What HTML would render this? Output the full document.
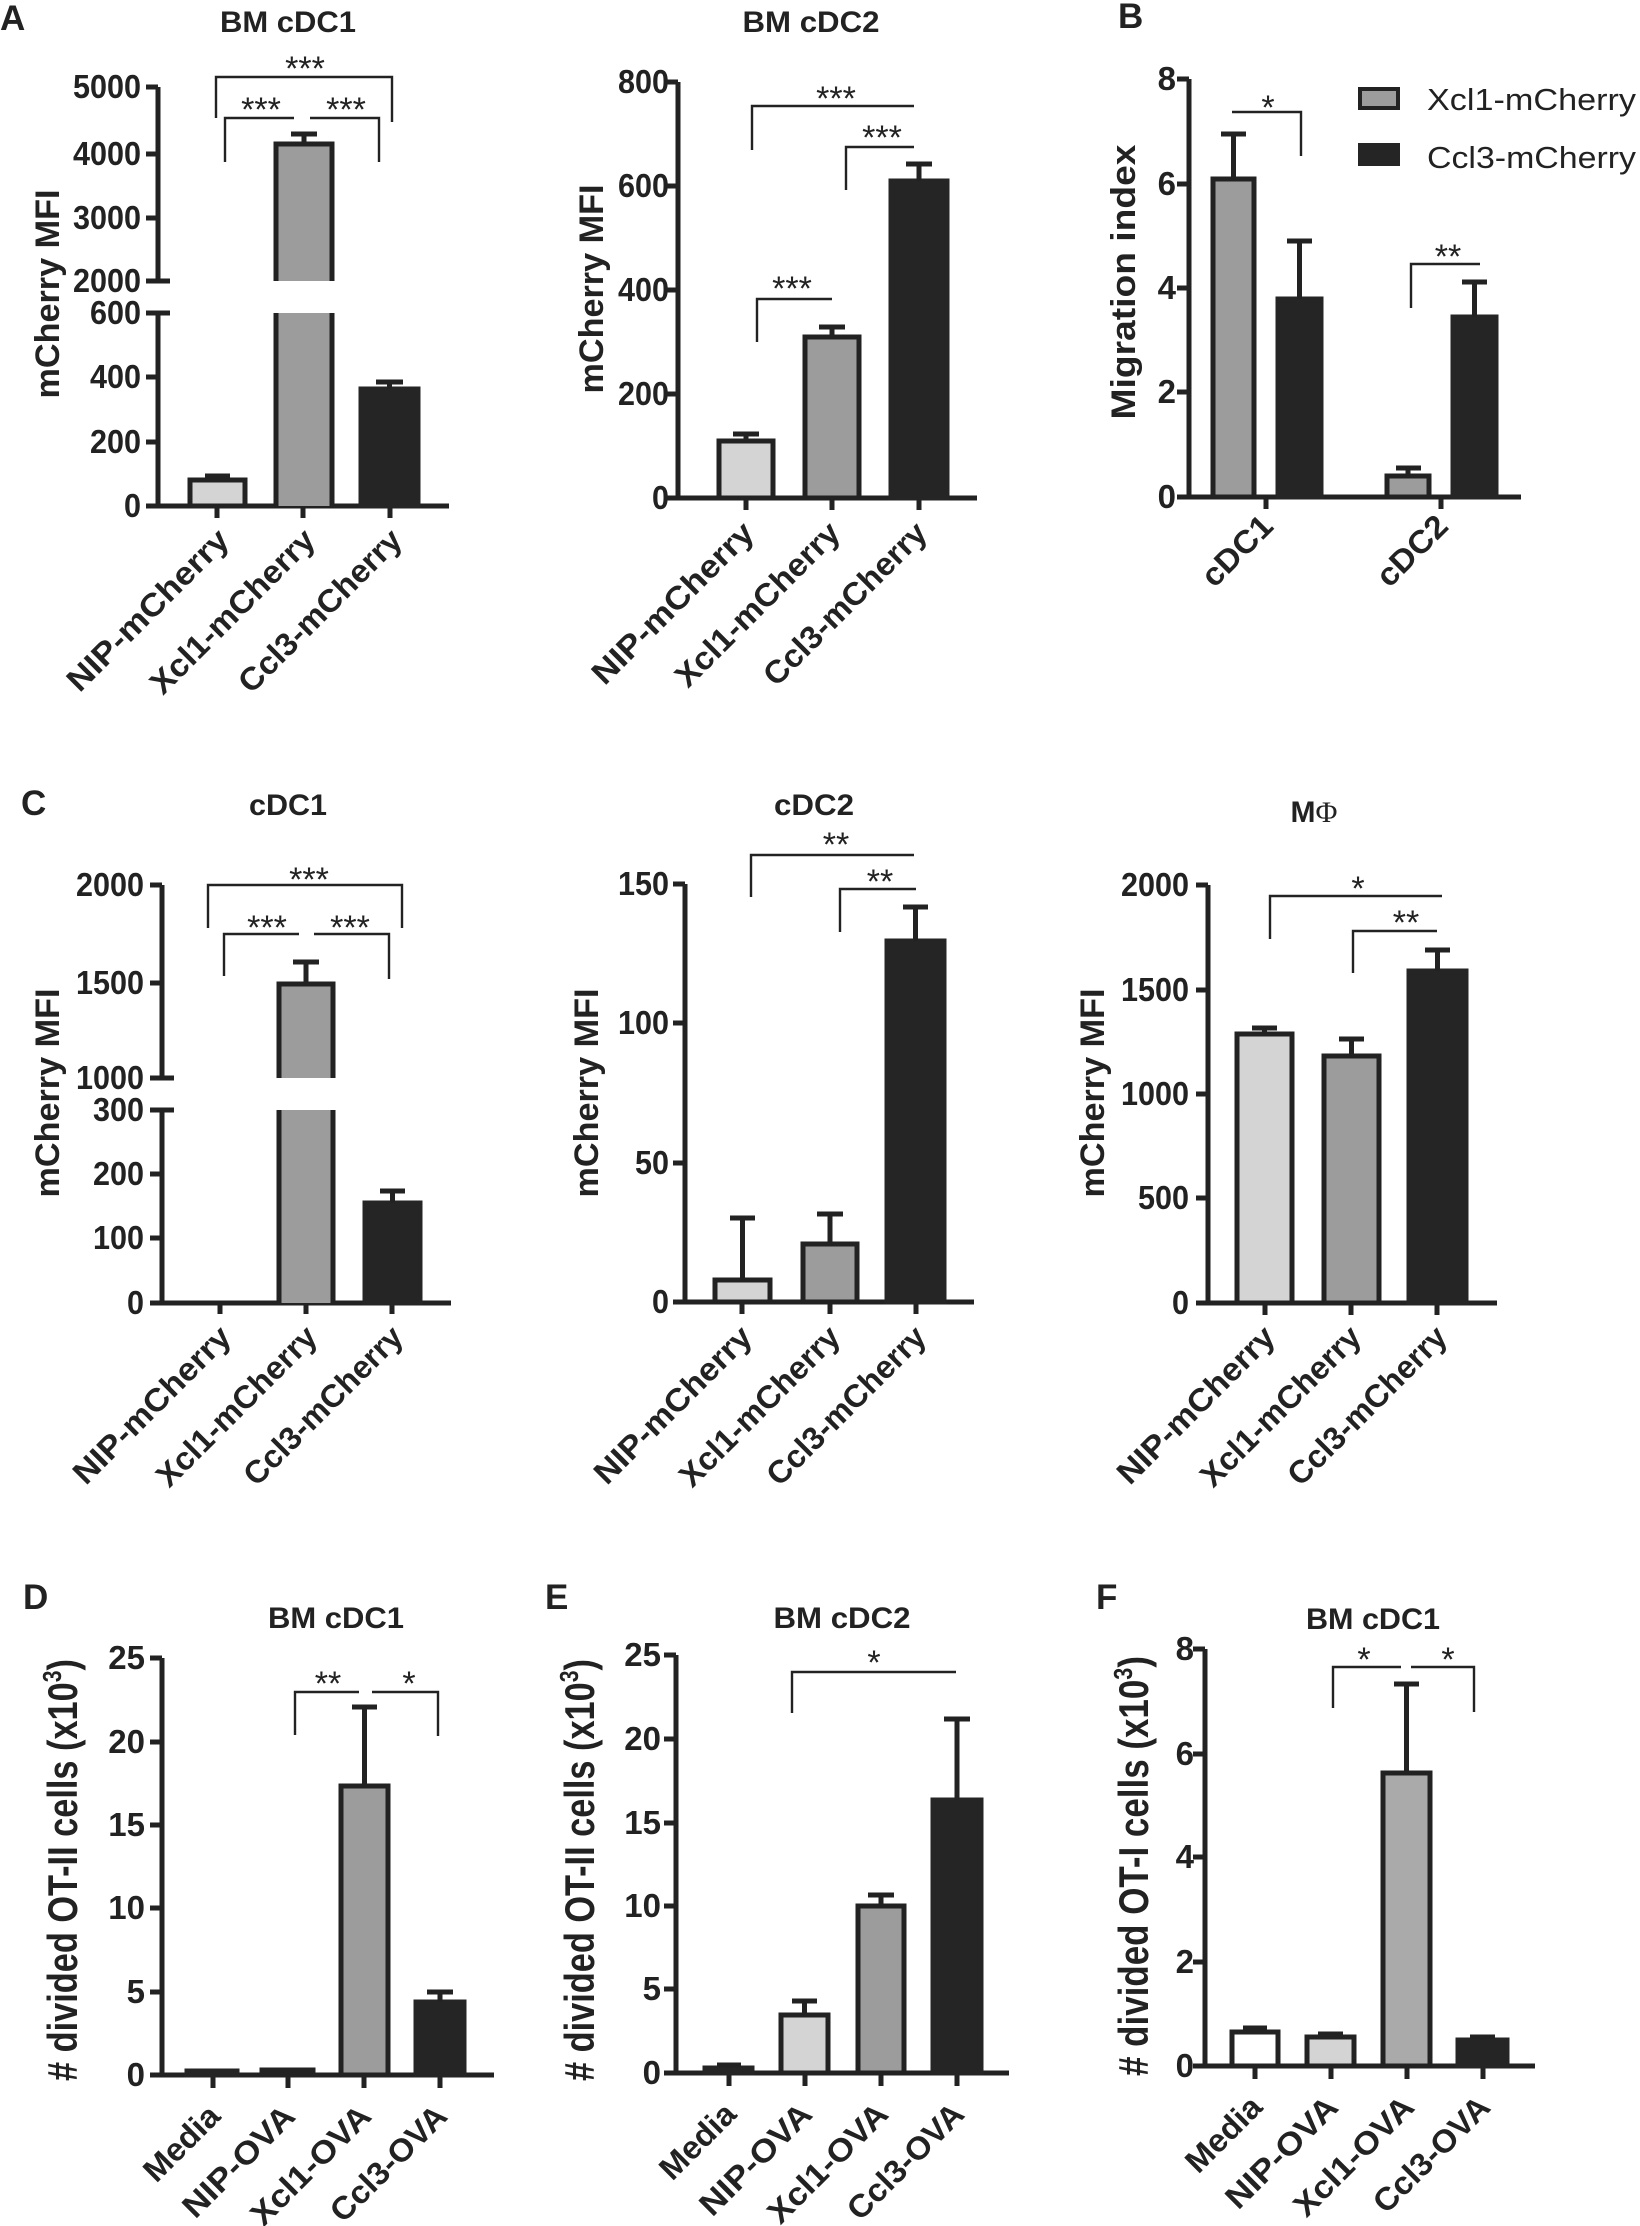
<!DOCTYPE html>
<html><head><meta charset="utf-8"><style>
html,body{margin:0;padding:0;background:#fff}
svg{display:block}
text{font-family:"Liberation Sans",Arial,sans-serif;fill:#222}
.ax{stroke:#222;stroke-width:5;fill:none}
.br{stroke:#222;stroke-width:2.4;fill:none}
.eb{stroke:#222;stroke-width:5;fill:none}
.tl{font-weight:bold;font-size:33px;text-anchor:end}
.tt{font-weight:bold;font-size:30px;text-anchor:middle}
.yl{font-weight:bold;font-size:34px;text-anchor:middle}
.xl{font-weight:bold;font-size:32px;text-anchor:end}
.st{font-size:34px;text-anchor:middle}
.pl{font-weight:bold;font-size:35px}
.yr{font-weight:bold;font-size:42px;text-anchor:middle}
.L{fill:#d4d4d4;stroke:#222;stroke-width:5}
.M{fill:#9c9c9c;stroke:#222;stroke-width:5}
.D{fill:#252525;stroke:#252525;stroke-width:5}
.W{fill:#fff;stroke:#222;stroke-width:5}
</style></head><body>
<svg width="1640" height="2226" viewBox="0 0 1640 2226" xmlns="http://www.w3.org/2000/svg">

<!-- ===== A1 ===== -->
<text class="pl" x="0" y="30">A</text>
<text class="tt" x="288" y="32" textLength="136" lengthAdjust="spacingAndGlyphs">BM cDC1</text>
<path class="ax" d="M158,87 V281 M158,313 V506 H449 M146,87H158 M146,154H158 M146,218H158 M146,281H170 M146,313H170 M146,377H158 M146,442H158 M146,506H158 M217,506V518 M303,506V518 M390,506V518"/>
<text class="tl" x="141" y="98" textLength="68" lengthAdjust="spacingAndGlyphs">5000</text><text class="tl" x="141" y="165" textLength="68" lengthAdjust="spacingAndGlyphs">4000</text><text class="tl" x="141" y="229" textLength="68" lengthAdjust="spacingAndGlyphs">3000</text><text class="tl" x="141" y="292" textLength="68" lengthAdjust="spacingAndGlyphs">2000</text>
<text class="tl" x="141" y="324" textLength="51" lengthAdjust="spacingAndGlyphs">600</text><text class="tl" x="141" y="388" textLength="51" lengthAdjust="spacingAndGlyphs">400</text><text class="tl" x="141" y="453" textLength="51" lengthAdjust="spacingAndGlyphs">200</text><text class="tl" x="141" y="517" textLength="17" lengthAdjust="spacingAndGlyphs">0</text>
<rect class="L" x="190" y="480" width="55" height="26"/><path class="eb" d="M217.5,480V476 M205,476H230"/>
<rect x="276" y="144" width="56" height="137" fill="#9c9c9c"/><rect x="276" y="313" width="56" height="193" fill="#9c9c9c"/>
<path class="ax" d="M276,281V144H332V281 M276,313V506 M332,313V506"/><path class="eb" d="M304,144V134 M291,134H317"/>
<rect class="D" x="361" y="389" width="57" height="117"/><path class="eb" d="M389.5,389V382 M376,382H403"/>
<path class="br" d="M216,118V77H392V122 M225,162V118H294 M310,118H379V162"/>
<text class="st" x="305" y="80">***</text><text class="st" x="261" y="121">***</text><text class="st" x="346" y="121">***</text>
<text class="yl" transform="translate(59,294) rotate(-90)" textLength="209" lengthAdjust="spacingAndGlyphs">mCherry MFI</text>
<text class="xl" transform="translate(231,542) rotate(-45)" textLength="214" lengthAdjust="spacingAndGlyphs">NIP-mCherry</text>
<text class="xl" transform="translate(317,542) rotate(-45)" textLength="218" lengthAdjust="spacingAndGlyphs">Xcl1-mCherry</text>
<text class="xl" transform="translate(404,542) rotate(-45)" textLength="216" lengthAdjust="spacingAndGlyphs">Ccl3-mCherry</text>

<!-- ===== A2 ===== -->
<text class="tt" x="811" y="32" textLength="137" lengthAdjust="spacingAndGlyphs">BM cDC2</text>
<path class="ax" d="M678,82V498H977 M666,82H678 M666,186H678 M666,290H678 M666,394H678 M666,498H678 M746,498V510 M832,498V510 M919,498V510"/>
<text class="tl" x="669" y="93" textLength="51" lengthAdjust="spacingAndGlyphs">800</text><text class="tl" x="669" y="197" textLength="51" lengthAdjust="spacingAndGlyphs">600</text><text class="tl" x="669" y="301" textLength="51" lengthAdjust="spacingAndGlyphs">400</text><text class="tl" x="669" y="405" textLength="51" lengthAdjust="spacingAndGlyphs">200</text><text class="tl" x="669" y="509" textLength="17" lengthAdjust="spacingAndGlyphs">0</text>
<rect class="L" x="719" y="441" width="54" height="57"/><path class="eb" d="M746,441V434 M733,434H759"/>
<rect class="M" x="805" y="337" width="54" height="161"/><path class="eb" d="M832,337V327 M819,327H845"/>
<rect class="D" x="891" y="181" width="56" height="317"/><path class="eb" d="M919,181V164 M906,164H932"/>
<path class="br" d="M752,150V106H914 M846,190V147H914 M757,342V299H832"/>
<text class="st" x="836" y="110">***</text><text class="st" x="882" y="149">***</text><text class="st" x="792" y="300">***</text>
<text class="yl" transform="translate(603,289) rotate(-90)" textLength="209" lengthAdjust="spacingAndGlyphs">mCherry MFI</text>
<text class="xl" transform="translate(756,535) rotate(-45)" textLength="214" lengthAdjust="spacingAndGlyphs">NIP-mCherry</text>
<text class="xl" transform="translate(842,535) rotate(-45)" textLength="218" lengthAdjust="spacingAndGlyphs">Xcl1-mCherry</text>
<text class="xl" transform="translate(929,535) rotate(-45)" textLength="216" lengthAdjust="spacingAndGlyphs">Ccl3-mCherry</text>

<!-- ===== B ===== -->
<text class="pl" x="1118" y="28">B</text>
<path class="ax" d="M1189,79V497H1521 M1177,79H1189 M1177,184H1189 M1177,288H1189 M1177,392H1189 M1177,497H1189 M1266,497V509 M1441,497V509"/>
<text class="tl" x="1176" y="90">8</text><text class="tl" x="1176" y="195">6</text><text class="tl" x="1176" y="299">4</text><text class="tl" x="1176" y="403">2</text><text class="tl" x="1176" y="508">0</text>
<rect class="M" x="1213" y="179" width="41" height="318"/><path class="eb" d="M1233.5,179V134 M1221,134H1246"/>
<rect class="D" x="1278" y="299" width="43" height="198"/><path class="eb" d="M1299.5,299V241 M1287,241H1312"/>
<rect class="M" x="1387" y="476" width="42" height="21"/><path class="eb" d="M1408,476V468 M1396,468H1421"/>
<rect class="D" x="1453" y="317" width="43" height="180"/><path class="eb" d="M1474.5,317V282 M1462,282H1487"/>
<path class="br" d="M1232,112H1301V156 M1411,308V264H1480"/>
<text class="st" x="1268" y="119">*</text><text class="st" x="1448" y="268">**</text>
<rect x="1360" y="89" width="38" height="19" fill="#9c9c9c" stroke="#222" stroke-width="4"/>
<rect x="1360" y="145" width="38" height="19" fill="#252525" stroke="#252525" stroke-width="4"/>
<text x="1427" y="110" font-size="31" textLength="209" lengthAdjust="spacingAndGlyphs">Xcl1-mCherry</text>
<text x="1427" y="168" font-size="31" textLength="209" lengthAdjust="spacingAndGlyphs">Ccl3-mCherry</text>
<text class="yl" transform="translate(1135,282) rotate(-90)" textLength="275" lengthAdjust="spacingAndGlyphs">Migration index</text>
<text class="xl" transform="translate(1275,528) rotate(-45)" textLength="86" lengthAdjust="spacingAndGlyphs">cDC1</text>
<text class="xl" transform="translate(1450,528) rotate(-45)" textLength="86" lengthAdjust="spacingAndGlyphs">cDC2</text>

<!-- ===== C1 ===== -->
<text class="pl" x="21" y="815">C</text>
<text class="tt" x="288" y="815" textLength="78" lengthAdjust="spacingAndGlyphs">cDC1</text>
<path class="ax" d="M162,885V1078 M162,1110V1303H451 M150,885H162 M150,983H162 M150,1078H174 M150,1110H174 M150,1174H162 M150,1238H162 M150,1303H162 M220,1303V1314 M306,1303V1314 M392,1303V1314"/>
<text class="tl" x="144" y="896" textLength="68" lengthAdjust="spacingAndGlyphs">2000</text><text class="tl" x="144" y="994" textLength="68" lengthAdjust="spacingAndGlyphs">1500</text><text class="tl" x="144" y="1089" textLength="68" lengthAdjust="spacingAndGlyphs">1000</text>
<text class="tl" x="144" y="1121" textLength="51" lengthAdjust="spacingAndGlyphs">300</text><text class="tl" x="144" y="1185" textLength="51" lengthAdjust="spacingAndGlyphs">200</text><text class="tl" x="144" y="1249" textLength="51" lengthAdjust="spacingAndGlyphs">100</text><text class="tl" x="144" y="1314" textLength="17" lengthAdjust="spacingAndGlyphs">0</text>
<rect x="279" y="984" width="54" height="94" fill="#9c9c9c"/><rect x="279" y="1110" width="54" height="193" fill="#9c9c9c"/>
<path class="ax" d="M279,1078V984H333V1078 M279,1110V1303 M333,1110V1303"/><path class="eb" d="M306,984V962 M293,962H319"/>
<rect class="D" x="365" y="1203" width="55" height="100"/><path class="eb" d="M392.5,1203V1191 M380,1191H405"/>
<path class="br" d="M208,928V885H402V928 M224,976V934H299 M314,934H389V979"/>
<text class="st" x="309" y="891">***</text><text class="st" x="267" y="939">***</text><text class="st" x="350" y="939">***</text>
<text class="yl" transform="translate(59,1093) rotate(-90)" textLength="209" lengthAdjust="spacingAndGlyphs">mCherry MFI</text>
<text class="xl" transform="translate(233,1339) rotate(-45)" textLength="208" lengthAdjust="spacingAndGlyphs">NIP-mCherry</text>
<text class="xl" transform="translate(319,1339) rotate(-45)" textLength="212" lengthAdjust="spacingAndGlyphs">Xcl1-mCherry</text>
<text class="xl" transform="translate(405,1339) rotate(-45)" textLength="210" lengthAdjust="spacingAndGlyphs">Ccl3-mCherry</text>

<!-- ===== C2 ===== -->
<text class="tt" x="814" y="815" textLength="80" lengthAdjust="spacingAndGlyphs">cDC2</text>
<path class="ax" d="M685,884V1302H974 M673,884H685 M673,1023H685 M673,1163H685 M673,1302H685 M742,1302V1314 M830,1302V1314 M916,1302V1314"/>
<text class="tl" x="669" y="895" textLength="51" lengthAdjust="spacingAndGlyphs">150</text><text class="tl" x="669" y="1034" textLength="51" lengthAdjust="spacingAndGlyphs">100</text><text class="tl" x="669" y="1174" textLength="34" lengthAdjust="spacingAndGlyphs">50</text><text class="tl" x="669" y="1313" textLength="17" lengthAdjust="spacingAndGlyphs">0</text>
<rect class="L" x="715" y="1280" width="55" height="22"/><path class="eb" d="M742.5,1280V1218 M730,1218H755"/>
<rect class="M" x="803" y="1244" width="54" height="58"/><path class="eb" d="M830,1244V1214 M817,1214H843"/>
<rect class="D" x="887" y="941" width="57" height="361"/><path class="eb" d="M915.5,941V907 M903,907H928"/>
<path class="br" d="M751,897V855H914 M840,932V889H916"/>
<text class="st" x="836" y="856">**</text><text class="st" x="880" y="893">**</text>
<text class="yl" transform="translate(598,1093) rotate(-90)" textLength="209" lengthAdjust="spacingAndGlyphs">mCherry MFI</text>
<text class="xl" transform="translate(754,1339) rotate(-45)" textLength="208" lengthAdjust="spacingAndGlyphs">NIP-mCherry</text>
<text class="xl" transform="translate(842,1339) rotate(-45)" textLength="212" lengthAdjust="spacingAndGlyphs">Xcl1-mCherry</text>
<text class="xl" transform="translate(928,1339) rotate(-45)" textLength="210" lengthAdjust="spacingAndGlyphs">Ccl3-mCherry</text>

<!-- ===== C3 ===== -->
<text class="tt" x="1314" y="822"><tspan>M</tspan><tspan font-family="Liberation Serif, serif" font-weight="normal">Φ</tspan></text>
<path class="ax" d="M1208,885V1303H1497 M1196,885H1208 M1196,990H1208 M1196,1094H1208 M1196,1198H1208 M1196,1303H1208 M1265,1303V1315 M1351,1303V1315 M1437,1303V1315"/>
<text class="tl" x="1189" y="896" textLength="68" lengthAdjust="spacingAndGlyphs">2000</text><text class="tl" x="1189" y="1001" textLength="68" lengthAdjust="spacingAndGlyphs">1500</text><text class="tl" x="1189" y="1105" textLength="68" lengthAdjust="spacingAndGlyphs">1000</text><text class="tl" x="1189" y="1209" textLength="51" lengthAdjust="spacingAndGlyphs">500</text><text class="tl" x="1189" y="1314" textLength="17" lengthAdjust="spacingAndGlyphs">0</text>
<rect class="L" x="1237" y="1034" width="55" height="269"/><path class="eb" d="M1264.5,1034V1028 M1252,1028H1277"/>
<rect class="M" x="1324" y="1056" width="55" height="247"/><path class="eb" d="M1351.5,1056V1039 M1339,1039H1364"/>
<rect class="D" x="1409" y="971" width="57" height="332"/><path class="eb" d="M1437.5,971V950 M1425,950H1450"/>
<path class="br" d="M1270,939V896H1442 M1353,973V931H1437"/>
<text class="st" x="1358" y="900">*</text><text class="st" x="1406" y="934">**</text>
<text class="yl" transform="translate(1104,1093) rotate(-90)" textLength="209" lengthAdjust="spacingAndGlyphs">mCherry MFI</text>
<text class="xl" transform="translate(1277,1339) rotate(-45)" textLength="208" lengthAdjust="spacingAndGlyphs">NIP-mCherry</text>
<text class="xl" transform="translate(1363,1339) rotate(-45)" textLength="212" lengthAdjust="spacingAndGlyphs">Xcl1-mCherry</text>
<text class="xl" transform="translate(1449,1339) rotate(-45)" textLength="210" lengthAdjust="spacingAndGlyphs">Ccl3-mCherry</text>

<!-- ===== D ===== -->
<text class="pl" x="23" y="1609">D</text>
<text class="tt" x="336" y="1628" textLength="136" lengthAdjust="spacingAndGlyphs">BM cDC1</text>
<path class="ax" d="M162,1658V2075H494 M150,1658H162 M150,1742H162 M150,1825H162 M150,1908H162 M150,1992H162 M150,2075H162 M213,2075V2088 M288,2075V2088 M364,2075V2088 M440,2075V2088"/>
<text class="tl" x="145" y="1669" font-size="31">25</text><text class="tl" x="145" y="1753" font-size="31">20</text><text class="tl" x="145" y="1836" font-size="31">15</text><text class="tl" x="145" y="1919" font-size="31">10</text><text class="tl" x="145" y="2003" font-size="31">5</text><text class="tl" x="145" y="2086" font-size="31">0</text>
<rect class="D" x="187" y="2071" width="50" height="4"/>
<rect class="L" x="262" y="2070" width="51" height="5"/>
<rect class="M" x="341" y="1786" width="47" height="289"/><path class="eb" d="M364.5,1786V1707 M352,1707H377"/>
<rect class="D" x="416" y="2002" width="48" height="73"/><path class="eb" d="M440,2002V1992 M427,1992H453"/>
<path class="br" d="M295,1735V1692H359 M372,1692H438V1736"/>
<text class="st" x="328" y="1695">**</text><text class="st" x="409" y="1695">*</text>
<text class="yr" transform="translate(77,1870) rotate(-90)" textLength="422" lengthAdjust="spacingAndGlyphs"># divided OT-II cells (x10<tspan font-size="26" dy="-16">3</tspan><tspan dy="16">)</tspan></text>
<text class="xl" transform="translate(222,2118) rotate(-45)" textLength="93" lengthAdjust="spacingAndGlyphs">Media</text>
<text class="xl" transform="translate(297,2118) rotate(-45)" textLength="144" lengthAdjust="spacingAndGlyphs">NIP-OVA</text>
<text class="xl" transform="translate(373,2118) rotate(-45)" textLength="155" lengthAdjust="spacingAndGlyphs">Xcl1-OVA</text>
<text class="xl" transform="translate(449,2118) rotate(-45)" textLength="150" lengthAdjust="spacingAndGlyphs">Ccl3-OVA</text>

<!-- ===== E ===== -->
<text class="pl" x="545" y="1609">E</text>
<text class="tt" x="842" y="1628" textLength="137" lengthAdjust="spacingAndGlyphs">BM cDC2</text>
<path class="ax" d="M676,1655V2073H1009 M664,1655H676 M664,1739H676 M664,1823H676 M664,1906H676 M664,1989H676 M664,2073H676 M729,2073V2086 M805,2073V2086 M881,2073V2086 M957,2073V2086"/>
<text class="tl" x="661" y="1666" font-size="31">25</text><text class="tl" x="661" y="1750" font-size="31">20</text><text class="tl" x="661" y="1834" font-size="31">15</text><text class="tl" x="661" y="1917" font-size="31">10</text><text class="tl" x="661" y="2000" font-size="31">5</text><text class="tl" x="661" y="2084" font-size="31">0</text>
<rect class="D" x="705" y="2068" width="47" height="5"/><path class="eb" d="M728.5,2068V2065 M717,2065H741"/>
<rect class="L" x="781" y="2015" width="47" height="58"/><path class="eb" d="M804.5,2015V2001 M792,2001H817"/>
<rect class="M" x="858" y="1906" width="46" height="167"/><path class="eb" d="M881,1906V1895 M868,1895H894"/>
<rect class="D" x="933" y="1800" width="48" height="273"/><path class="eb" d="M957,1800V1719 M944,1719H970"/>
<path class="br" d="M792,1713V1672H956"/>
<text class="st" x="874" y="1674">*</text>
<text class="yr" transform="translate(594,1870) rotate(-90)" textLength="422" lengthAdjust="spacingAndGlyphs"># divided OT-II cells (x10<tspan font-size="26" dy="-16">3</tspan><tspan dy="16">)</tspan></text>
<text class="xl" transform="translate(738,2116) rotate(-45)" textLength="93" lengthAdjust="spacingAndGlyphs">Media</text>
<text class="xl" transform="translate(814,2116) rotate(-45)" textLength="144" lengthAdjust="spacingAndGlyphs">NIP-OVA</text>
<text class="xl" transform="translate(890,2116) rotate(-45)" textLength="155" lengthAdjust="spacingAndGlyphs">Xcl1-OVA</text>
<text class="xl" transform="translate(966,2116) rotate(-45)" textLength="150" lengthAdjust="spacingAndGlyphs">Ccl3-OVA</text>

<!-- ===== F ===== -->
<text class="pl" x="1096" y="1609">F</text>
<text class="tt" x="1373" y="1629" textLength="134" lengthAdjust="spacingAndGlyphs">BM cDC1</text>
<path class="ax" d="M1205,1649V2066H1535 M1193,1649H1205 M1193,1754H1205 M1193,1857H1205 M1193,1962H1205 M1193,2066H1205 M1255,2066V2079 M1331,2066V2079 M1407,2066V2079 M1483,2066V2079"/>
<text class="tl" x="1194" y="1660" font-size="31">8</text><text class="tl" x="1194" y="1765" font-size="31">6</text><text class="tl" x="1194" y="1868" font-size="31">4</text><text class="tl" x="1194" y="1973" font-size="31">2</text><text class="tl" x="1194" y="2077" font-size="31">0</text>
<rect class="W" x="1232" y="2032" width="46" height="34"/><path class="eb" d="M1255,2032V2028 M1243,2028H1267"/>
<rect class="L" x="1307" y="2037" width="47" height="29"/><path class="eb" d="M1330.5,2037V2034 M1318,2034H1343"/>
<rect x="1383" y="1773" width="47" height="293" fill="#aaa" stroke="#222" stroke-width="5"/><path class="eb" d="M1406.5,1773V1684 M1394,1684H1419"/>
<rect class="D" x="1458" y="2040" width="49" height="26"/><path class="eb" d="M1482.5,2040V2037 M1470,2037H1495"/>
<path class="br" d="M1333,1708V1667H1401 M1411,1667H1474V1712"/>
<text class="st" x="1364" y="1671">*</text><text class="st" x="1448" y="1671">*</text>
<text class="yr" transform="translate(1148,1866) rotate(-90)" textLength="420" lengthAdjust="spacingAndGlyphs"># divided OT-I cells (x10<tspan font-size="26" dy="-16">3</tspan><tspan dy="16">)</tspan></text>
<text class="xl" transform="translate(1264,2109) rotate(-45)" textLength="93" lengthAdjust="spacingAndGlyphs">Media</text>
<text class="xl" transform="translate(1340,2109) rotate(-45)" textLength="144" lengthAdjust="spacingAndGlyphs">NIP-OVA</text>
<text class="xl" transform="translate(1416,2109) rotate(-45)" textLength="155" lengthAdjust="spacingAndGlyphs">Xcl1-OVA</text>
<text class="xl" transform="translate(1492,2109) rotate(-45)" textLength="150" lengthAdjust="spacingAndGlyphs">Ccl3-OVA</text>
</svg>
</body></html>
